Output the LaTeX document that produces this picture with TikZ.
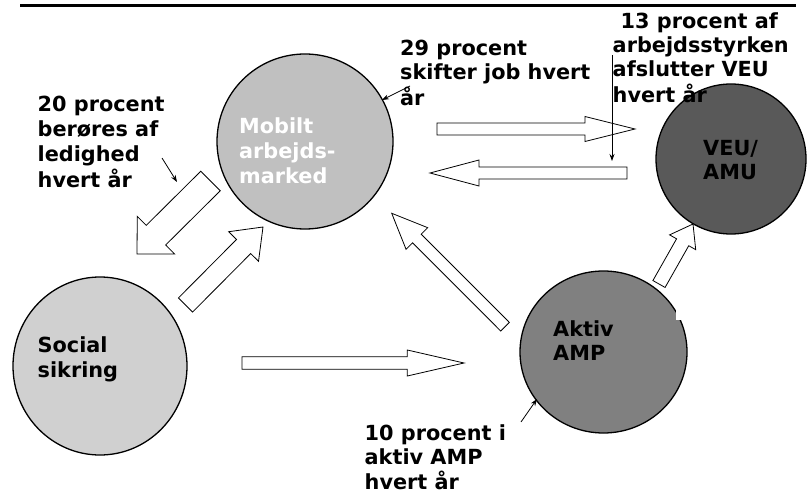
\documentclass[tikz,border=0pt]{standalone}
\usepackage{fontspec}
\setmainfont{DejaVu Sans}
\usetikzlibrary{calc,arrows.meta,shapes.geometric}
\definecolor{gMob}{HTML}{C0C0C0}
\definecolor{gSoc}{HTML}{D0D0D0}
\definecolor{gAkt}{HTML}{808080}
\definecolor{gVeu}{HTML}{595959}
\newcommand{\lns}[1]{\begin{tabular}[t]{@{}l@{}}#1\end{tabular}}
% tail, tip, half shaft width, half head width, head length
\newcommand{\blkarrow}[5]{%
  \coordinate (hb) at ($(#2)!#5!(#1)$);
  \draw[blk] ($(#1)!#3!90:(#2)$) -- ($(hb)!#3!90:(#2)$) -- ($(hb)!#4!90:(#2)$) -- (#2)
    -- ($(hb)!#4!-90:(#2)$) -- ($(hb)!#3!-90:(#2)$) -- ($(#1)!#3!-90:(#2)$) -- cycle;}
\begin{document}
\begin{tikzpicture}[x=1pt,y=-1pt,
  circ/.style={draw=black, line width=1.3pt, ellipse, inner sep=0pt},
  blk/.style={draw=black, fill=white, line width=0.8pt, line join=miter},
  txt/.style={font=\bfseries\fontsize{20.8}{25}\selectfont, inner sep=0pt, anchor=base west},
  txtb/.style={font=\bfseries\fontsize{20.8}{24}\selectfont, inner sep=0pt, anchor=base west},
  callout/.style={draw=black, line width=0.8pt, -{Stealth[length=7pt,width=5pt]}}]
\useasboundingbox[fill=white] (0,0) rectangle (810,494);

% top rule
\coordinate (r1) at (20,5.5);
\coordinate (r2) at (796,5.5);
\draw[line width=2.7pt] (r1) -- (r2);

% circles
\node[circ, fill=gMob, minimum width=176pt, minimum height=175pt] (mob) at (305,141.5) {};
\node[circ, fill=gSoc, minimum width=174pt, minimum height=178pt] (soc) at (100,366) {};
\node[circ, fill=gAkt, minimum width=167pt, minimum height=162pt] (akt) at (603.5,352) {};
\node[circ, fill=gVeu, minimum width=150pt, minimum height=150pt] (veu) at (731,159) {};
\fill[white] (676,283) rectangle (700,320);

% circle texts
\node[txt, text=white] (tmob) at (239,134) {\lns{Mobilt\\arbejds-\\marked}};
\node[txt] (tsoc) at (37.5,352) {\lns{Social\\sikring}};
\node[txtb] (takt) at (553,336) {\lns{Aktiv\\AMP}};
\node[txtb] (tveu) at (703,156) {\lns{VEU/\\AMU}};

% block arrows
\coordinate (a1t) at (437,129);   \coordinate (a1h) at (635,129);
\coordinate (a2t) at (627,173);   \coordinate (a2h) at (430,173);
\coordinate (a3t) at (210.5,181); \coordinate (a3h) at (137,254);
\coordinate (a4t) at (185.5,305); \coordinate (a4h) at (263,227);
\coordinate (a5t) at (505,326.7); \coordinate (a5h) at (391.7,213.3);
\coordinate (a6t) at (242,363);   \coordinate (a6h) at (464,363);
\coordinate (a7t) at (659,284);   \coordinate (a7h) at (693,224);
\blkarrow{a1t}{a1h}{6pt}{12.5pt}{50pt}
\blkarrow{a2t}{a2h}{6pt}{13pt}{49pt}
\blkarrow{a3t}{a3h}{13.8pt}{26.5pt}{26.7pt}
\blkarrow{a4t}{a4h}{10pt}{21pt}{27.5pt}
\blkarrow{a5t}{a5h}{6.1pt}{15.3pt}{35.6pt}
\blkarrow{a6t}{a6h}{6.3pt}{13pt}{56.7pt}
\blkarrow{a7t}{a7h}{7pt}{15pt}{21pt}

% callout texts
\node[txt] (t20) at (37.5,112) {\lns{20 procent\\berøres af\\ledighed\\hvert år}};
\node[txtb] (t29) at (400,56) {\lns{29 procent\\skifter job hvert\\år}};
\node[txtb] (t13) at (612.5,28.5) {\lns{\hspace*{8pt}13 procent af\\arbejdsstyrken\\afslutter VEU\\hvert år}};
\node[txtb] (t10) at (364.5,440) {\lns{10 procent i\\aktiv AMP\\hvert år}};

% callout arrows
\coordinate (c20a) at (162,158); \coordinate (c20b) at (177,182);
\coordinate (c29a) at (410,86);  \coordinate (c29b) at (382,100);
\coordinate (c13a) at (612,55);  \coordinate (c13b) at (612,161);
\coordinate (c10a) at (521,422); \coordinate (c10b) at (537,399);
\draw[callout] (c20a) -- (c20b);
\draw[callout] (c29a) -- (c29b);
\draw[callout] (c13a) -- (c13b);
\draw[callout] (c10a) -- (c10b);
\end{tikzpicture}
\end{document}
